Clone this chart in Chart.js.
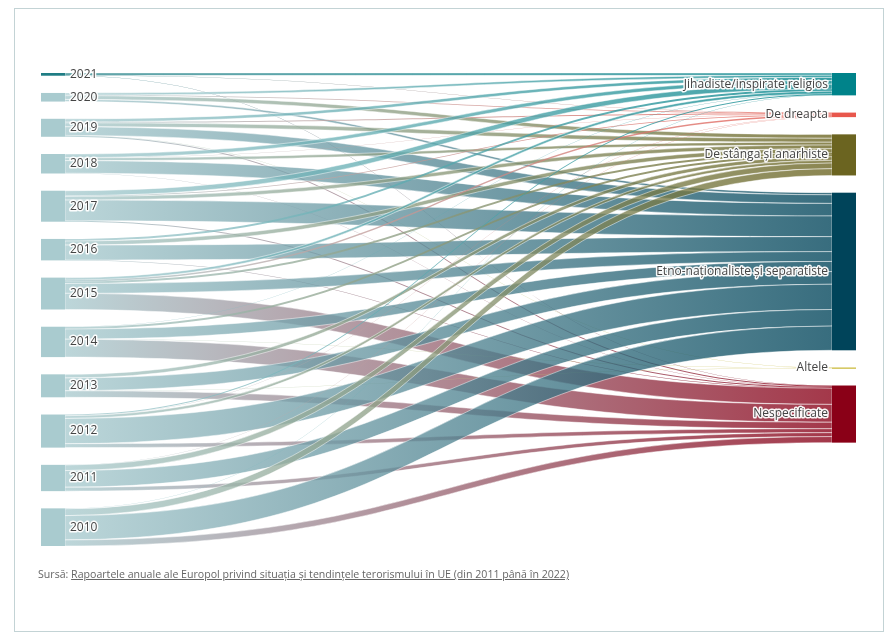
<!DOCTYPE html>
<html>
<head>
<meta charset="utf-8">
<script src="https://cdn.jsdelivr.net/npm/chart.js@4.4.0/dist/chart.umd.min.js"></script>
<style>
html,body{margin:0;padding:0;background:#fff;}
#wrap{position:relative;width:892px;height:644px;overflow:hidden;background:#fff;}
#frame{position:absolute;left:14px;top:8px;width:870px;height:624px;border:1px solid #c3d3d5;box-sizing:border-box;}
#c{position:absolute;left:0;top:0;}
#src{position:absolute;left:38px;top:567px;font:10.6px "Open Sans",sans-serif;color:#666;white-space:nowrap;}
#src a{color:#666;text-decoration:underline;}
</style>
</head>
<body>
<div id="wrap">
  <div id="frame"></div>
  <canvas id="c" width="892" height="644"></canvas>
  <div id="src">Sursă: <a>Rapoartele anuale ale Europol privind situația și tendințele terorismului în UE (din 2011 până în 2022)</a></div>
</div>
<script>
// ---- DATA (attacks per year and affiliation) ----
const years = ['2010','2011','2012','2013','2014','2015','2016','2017','2018','2019','2020','2021'];
const categories = ['Jihadiste/inspirate religios','De dreapta','De stânga și anarhiste','Etno-naționaliste și separatiste','Altele','Nespecificate'];
const jihadist    = [3, 0, 6, 0, 2, 17, 13, 33, 24, 21, 14, 15];
const rightWing   = [0, 1, 2, 0, 0, 9, 1, 5, 1, 6, 4, 1];
const leftWing    = [45, 37, 18, 24, 13, 13, 27, 24, 19, 26, 25, 1];
const separatist  = [160, 110, 167, 84, 67, 65, 99, 137, 83, 57, 14, 0];
const other       = [1, 0, 0, 1, 1, 0, 0, 0, 0, 2, 0, 0];
const unspecified = [40, 26, 26, 43, 118, 107, 2, 6, 2, 7, 0, 1];

// ---- STYLE ----
const seriesValues = [jihadist, rightWing, leftWing, separatist, other, unspecified];
const categoryColors = ['#00838a', '#e8574c', '#6b6420', '#00445a', '#c8b630', '#8a0017'];
const yearColors = years.map(y => y === '2021' ? '#1f7d84' : '#a9cbcf');
const NODE_PAD = 114;      // gap between nodes, in value units
const NODE_W = 24;         // node width in px
const LINK_ALPHA = 0.78;

function hexToRgba(hex, a) {
  const n = parseInt(hex.slice(1), 16);
  return `rgba(${(n >> 16) & 255},${(n >> 8) & 255},${n & 255},${a})`;
}

// ---- LAYOUT IN VALUE UNITS ----
const leftOrder = years.map((_, i) => i).reverse();   // 2021 on top
const leftNodes = {};
let yy = 0;
leftOrder.forEach(i => {
  const v = seriesValues.reduce((s, arr) => s + arr[i], 0);
  leftNodes[i] = { y0: yy, y1: yy + v, v };
  yy += v + NODE_PAD;
});
const yMax = yy - NODE_PAD;
const rightNodes = [];
yy = 0;
categories.forEach((c, ci) => {
  const v = seriesValues[ci].reduce((s, x) => s + x, 0);
  rightNodes[ci] = { y0: yy, y1: yy + v, v };
  yy += v + NODE_PAD;
});

// links with offsets
const links = [];
leftOrder.forEach(i => {
  let off = leftNodes[i].y0;
  categories.forEach((c, ci) => {
    const v = seriesValues[ci][i];
    if (v > 0) { links.push({ s: i, t: ci, v, sy0: off, sy1: off + v }); off += v; }
  });
});
categories.forEach((c, ci) => {
  let off = rightNodes[ci].y0;
  leftOrder.forEach(i => {
    const l = links.find(k => k.s === i && k.t === ci);
    if (l) { l.ty0 = off; l.ty1 = off + l.v; off += l.v; }
  });
});

function haloText(ctx, txt, x, y) {
  ctx.save();
  ctx.lineJoin = 'round';
  ctx.strokeStyle = 'rgba(255,255,255,0.95)';
  ctx.lineWidth = 3;
  ctx.strokeText(txt, x, y);
  ctx.fillStyle = '#444';
  ctx.fillText(txt, x, y);
  ctx.restore();
}

const sankeyPlugin = {
  id: 'sankey',
  afterDatasetsDraw(chart) {
    const ctx = chart.ctx;
    const xs = chart.scales.x, ys = chart.scales.y;
    const xLeft = xs.getPixelForValue(0);
    const xRight = xs.getPixelForValue(1);
    const x0 = xLeft + NODE_W, x1 = xRight - NODE_W, xm = (x0 + x1) / 2;
    // links
    links.forEach(l => {
      const a0 = ys.getPixelForValue(l.sy0), b0 = ys.getPixelForValue(l.sy1);
      const a1 = ys.getPixelForValue(l.ty0), b1 = ys.getPixelForValue(l.ty1);
      const g = ctx.createLinearGradient(x0, 0, x1, 0);
      g.addColorStop(0, hexToRgba(yearColors[l.s], LINK_ALPHA));
      g.addColorStop(1, hexToRgba(categoryColors[l.t], LINK_ALPHA));
      ctx.beginPath();
      ctx.moveTo(x0, a0);
      ctx.bezierCurveTo(xm, a0, xm, a1, x1, a1);
      ctx.lineTo(x1, b1);
      ctx.bezierCurveTo(xm, b1, xm, b0, x0, b0);
      ctx.closePath();
      ctx.fillStyle = g;
      ctx.fill();
      if (b0 - a0 > 2) {
        ctx.strokeStyle = 'rgba(255,255,255,0.8)';
        ctx.lineWidth = 0.6;
        ctx.stroke();
      }
    });
    // nodes
    leftOrder.forEach(i => {
      const n = leftNodes[i];
      const t = ys.getPixelForValue(n.y0), b = ys.getPixelForValue(n.y1);
      ctx.fillStyle = yearColors[i];
      ctx.fillRect(xLeft, t, NODE_W, Math.max(b - t, 1.5));
    });
    categories.forEach((c, ci) => {
      const n = rightNodes[ci];
      const t = ys.getPixelForValue(n.y0), b = ys.getPixelForValue(n.y1);
      ctx.fillStyle = categoryColors[ci];
      ctx.fillRect(xRight - NODE_W, t, NODE_W, Math.max(b - t, 1.2));
    });
    // labels
    ctx.font = '12px "Open Sans", sans-serif';
    ctx.textBaseline = 'middle';
    ctx.textAlign = 'left';
    leftOrder.forEach(i => {
      const n = leftNodes[i];
      const yc = ys.getPixelForValue((n.y0 + n.y1) / 2);
      haloText(ctx, years[i], xLeft + NODE_W + 5, yc);
    });
    ctx.textAlign = 'right';
    categories.forEach((c, ci) => {
      const n = rightNodes[ci];
      const yc = ys.getPixelForValue((n.y0 + n.y1) / 2);
      haloText(ctx, c, xRight - NODE_W - 4, yc);
    });
  }
};

new Chart(document.getElementById('c'), {
  type: 'scatter',
  data: { datasets: [{ data: [] }] },
  options: {
    responsive: false,
    animation: false,
    devicePixelRatio: 1,
    layout: { padding: { left: 41, right: 36, top: 73, bottom: 98 } },
    plugins: { legend: { display: false }, tooltip: { enabled: false } },
    scales: {
      x: { type: 'linear', min: 0, max: 1, display: false },
      y: { type: 'linear', min: 0, max: yMax, reverse: true, display: false }
    }
  },
  plugins: [sankeyPlugin]
});
</script>
</body>
</html>
